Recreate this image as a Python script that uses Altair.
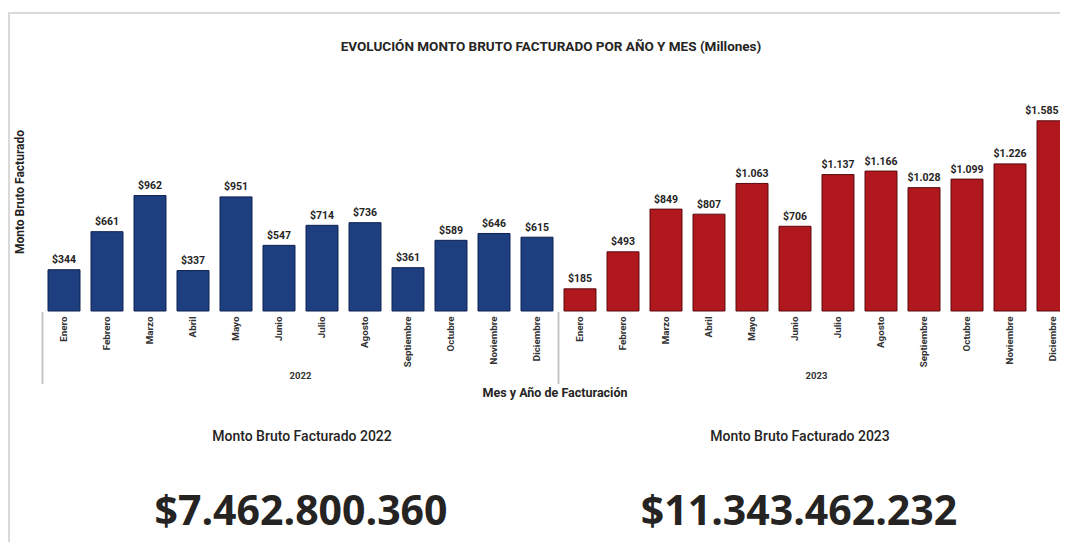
import altair as alt
import pandas as pd

months = ["Enero", "Febrero", "Marzo", "Abril", "Mayo", "Junio", "Julio",
          "Agosto", "Septiembre", "Octubre", "Noviembre", "Diciembre"]
years = ["2022", "2023"]
values_2022 = [344, 661, 962, 337, 951, 547, 714, 736, 361, 589, 646, 615]
values_2023 = [185, 493, 849, 807, 1063, 706, 1137, 1166, 1028, 1099, 1226, 1585]
totals = [7462800360, 11343462232]

title_text = "EVOLUCIÓN MONTO BRUTO FACTURADO POR AÑO Y MES (Millones)"
y_title = "Monto Bruto Facturado"
x_title = "Mes y Año de Facturación"
kpi_titles = ["Monto Bruto Facturado 2022", "Monto Bruto Facturado 2023"]

BLUE = "#1d3f80"
RED = "#b0181e"
TXT = "#252423"
FONT = "Roboto"

# plot origin on page: (42.5, 107)
OX = 42.5


def fmt(v):
    return "$" + f"{v:,}".replace(",", ".")


rows = []
for y, vals in zip(years, [values_2022, values_2023]):
    for m, v in zip(months, vals):
        rows.append({"key": f"{m} {y}", "month": m, "year": y, "value": v, "label": fmt(v)})
df = pd.DataFrame(rows)
keys = list(df["key"])
last_key = keys[-1]

xscale = alt.Scale(domain=keys, range=[0, 1032], paddingInner=0.256, paddingOuter=0.128)
xenc = alt.X("key:N", sort=keys, scale=xscale,
             axis=alt.Axis(title=None, labelAngle=270, labelExpr="split(datum.label, ' ')[0]",
                           domain=False, ticks=False, grid=False, labelPadding=5,
                           labelFont=FONT, labelFontWeight="bold", labelFontSize=9.8,
                           labelColor="#333333"))
yenc = alt.Y("value:Q", scale=alt.Scale(domain=[0, 1700], nice=False, zero=True), axis=None)

base = alt.Chart(df)
bars = base.mark_bar(strokeWidth=1).encode(
    x=xenc, y=yenc,
    color=alt.Color("year:N", scale=alt.Scale(domain=years, range=[BLUE, RED]), legend=None),
    stroke=alt.Stroke("year:N", scale=alt.Scale(domain=years, range=["#0e2050", "#5a0a0d"]), legend=None),
)
xlab = alt.X("key:N", sort=keys, scale=xscale)
labels = base.transform_filter(alt.datum.key != last_key).mark_text(
    dy=-6.5, baseline="alphabetic", font=FONT, fontWeight="bold", fontSize=10.5, color=TXT
).encode(x=xlab, y=yenc, text="label:N")
# the last bar is cut by the right edge: keep its label inside the picture
label_last = base.transform_filter(alt.datum.key == last_key).mark_text(
    dy=-6.5, dx=-10.5, align="right", baseline="alphabetic", font=FONT, fontWeight="bold",
    fontSize=10.5, color=TXT
).encode(x=alt.X("key:N", sort=keys, scale=xscale, bandPosition=1), y=yenc, text="label:N")

ydf = pd.DataFrame({"year": years, "first": [f"Enero {y}" for y in years],
                    "mid": [f"Julio {y}" for y in years]})
seps = alt.Chart(ydf).mark_rule(color="#c8c6c4", strokeWidth=2).encode(
    x=alt.X("first:N", bandPosition=0, scale=xscale, sort=keys),
    xOffset=alt.value(-5.5),
    y=alt.value(205), y2=alt.value(277),
)
year_lbl = alt.Chart(ydf).mark_text(font=FONT, fontWeight="bold", fontSize=9.5, color="#333333",
                                    baseline="middle").encode(
    x=alt.X("mid:N", bandPosition=0, scale=xscale, sort=keys),
    xOffset=alt.value(-5.5),
    y=alt.value(269),
    text="year:N",
)

one = pd.DataFrame({"a": [0]})
frame_left = alt.Chart(one).mark_rule(color="#d9d9d9", strokeWidth=2).encode(
    x=alt.value(9 - OX), y=alt.value(-94), y2=alt.value(436))
frame_top = alt.Chart(one).mark_rule(color="#d9d9d9", strokeWidth=2).encode(
    x=alt.value(8 - OX), x2=alt.value(1040), y=alt.value(-94))


def label_text(txt, x, y, size, weight="bold", font=FONT, angle=0, baseline="middle"):
    return alt.Chart(pd.DataFrame({"t": [txt]})).mark_text(
        font=font, fontSize=size, fontWeight=weight, color=TXT, angle=angle,
        baseline=baseline, align="center").encode(
        x=alt.value(x - OX), y=alt.value(y), text="t:N")


title = label_text(title_text, 551, -60, 13.5)
ytitle = label_text(y_title, 20, 85, 12, angle=270)
xtitle = label_text(x_title, 555, 286, 12.5)

kpi_t1 = label_text(kpi_titles[0], 302, 330, 14, weight=500)
kpi_t2 = label_text(kpi_titles[1], 800, 330, 14, weight=500)
kpi_v1 = label_text(fmt(totals[0]), 301, 418, 41, font="Open Sans", baseline="alphabetic")
kpi_v2 = label_text(fmt(totals[1]), 799, 418, 41, font="Open Sans", baseline="alphabetic")

chart = alt.layer(
    frame_left, frame_top, bars, labels, label_last, seps, year_lbl, title, ytitle, xtitle,
    kpi_t1, kpi_t2, kpi_v1, kpi_v2,
).properties(
    width=1017.5, height=204,
    autosize=alt.AutoSizeParams(type="none"),
    padding={"left": 34.5, "top": 99, "right": 0, "bottom": 231},
    background="white",
).configure_view(stroke=None)

chart.save("out.html", embed_options={"renderer": "svg", "actions": False})
